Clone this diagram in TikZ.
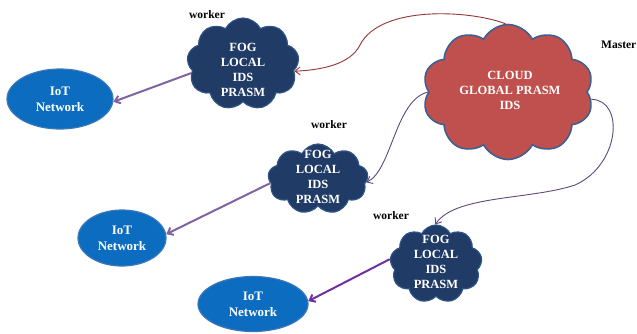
\documentclass[tikz,border=0pt]{standalone}
\usepackage{fontspec}
\setmainfont{Liberation Serif}
\usetikzlibrary{shapes.symbols,shapes.geometric,arrows.meta}
\definecolor{fogfill}{HTML}{1F3B66}
\definecolor{fogdraw}{HTML}{2F5487}
\definecolor{cloudfill}{HTML}{C0504D}
\definecolor{clouddraw}{HTML}{3F5F8F}
\definecolor{iotfill}{HTML}{0B6CC0}
\definecolor{iotdraw}{HTML}{3A78B8}
\definecolor{linkA}{HTML}{8064A2}
\definecolor{linkB}{HTML}{7030A0}
\definecolor{redlink}{HTML}{943634}
\definecolor{purlink}{HTML}{5F497A}
\begin{document}
\begin{tikzpicture}[x=1pt,y=-1pt,
  fogcloud/.style={cloud, cloud puffs=9, cloud puff arc=125, draw=fogdraw, fill=fogfill, line width=1.2pt, inner sep=0pt},
  mastercloud/.style={cloud, cloud puffs=10, cloud puff arc=125, draw=clouddraw, fill=cloudfill, line width=1.6pt, inner sep=0pt},
  iot/.style={ellipse, draw=iotdraw, fill=iotfill, line width=1.2pt, inner sep=0pt, text=white, font=\bfseries\fontsize{13}{16}\selectfont, align=center},
  cloudtext/.style={text=white, font=\bfseries\fontsize{12.5}{15}\selectfont, align=center, inner sep=0pt},
  rolelabel/.style={font=\bfseries\fontsize{11.5}{13}\selectfont, inner sep=0pt},
  tip/.style={-{Straight Barb[length=5pt,width=8pt]}},
  iotlink/.style={tip, line width=2pt, draw=linkA},
  masterlink/.style={tip, line width=0.9pt}
]
\useasboundingbox (0,0) rectangle (637,333);
\fill[white] (0,0) rectangle (637,333);

% clouds
\node[fogcloud, minimum width=112pt, minimum height=92pt] (fog1) at (243,64) {};
\node[cloudtext] (fog1t) at (243,70) {FOG\\LOCAL\\IDS\\PRASM};
\node[fogcloud, minimum width=100pt, minimum height=70pt] (fog2) at (318,179) {};
\node[cloudtext] (fog2t) at (318,177) {FOG\\LOCAL\\IDS\\PRASM};
\node[fogcloud, minimum width=92pt, minimum height=78pt] (fog3) at (436,264) {};
\node[cloudtext] (fog3t) at (436,262) {FOG\\LOCAL\\IDS\\PRASM};
\node[mastercloud, minimum width=171pt, minimum height=135pt] (master) at (508,92) {};
\node[cloudtext] (mastert) at (510,90) {CLOUD\\GLOBAL PRASM\\IDS};

% IoT networks
\node[iot, minimum width=106pt, minimum height=60pt] (iot1) at (60,99) {IoT\\Network};
\node[iot, minimum width=88pt, minimum height=56pt] (iot2) at (122,238) {IoT\\Network};
\node[iot, minimum width=110pt, minimum height=55pt] (iot3) at (253,304) {IoT\\Network};

% labels
\node[rolelabel] (w1) at (207,15) {worker};
\node[rolelabel] (w2) at (329,125) {worker};
\node[rolelabel] (w3) at (391,216) {worker};
\node[rolelabel, anchor=west] (ms) at (601,45) {Master};

% fog -> IoT
\draw[iotlink] (fog1.190) -- (iot1.357);
\draw[iotlink] (fog2.185) -- (iot2.5);
\draw[iotlink, draw=linkB] (fog3.174) -- (iot3.3);

% master -> fog
\coordinate (m1) at (360,45);
\coordinate (m3) at (575,185);
\draw[masterlink, draw=redlink] (master.92) .. controls (470,10) and (380,5) .. (m1)
  .. controls (350,65) and (320,70) .. (fog1.352);
\draw[masterlink, draw=purlink] (master.180) .. controls (395,100) and (392,170) .. (fog2.356);
\draw[masterlink, draw=purlink] (master.355) .. controls (625,100) and (620,165) .. (m3)
  .. controls (530,200) and (455,195) .. (fog3.91);
\end{tikzpicture}
\end{document}
